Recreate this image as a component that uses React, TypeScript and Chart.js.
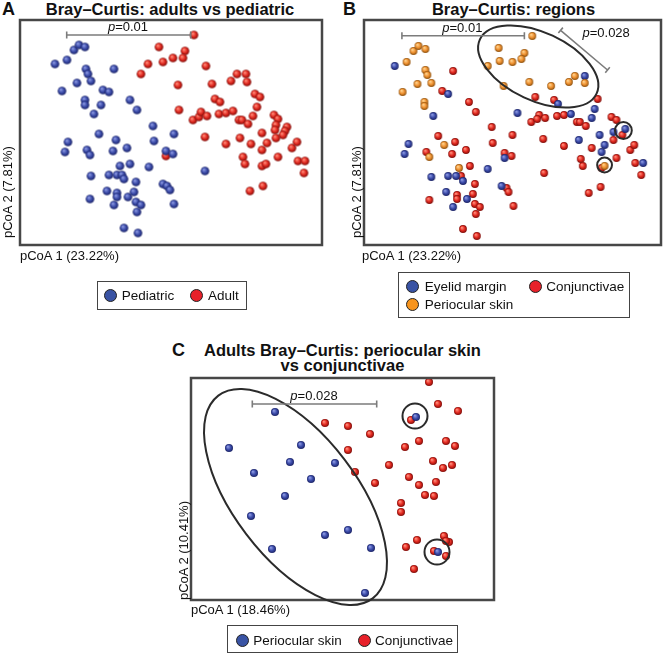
import React, { useEffect, useRef } from 'react';
import { Chart, registerables } from 'chart.js';

Chart.register(...registerables);

type Pt = [number, number];

// ---------- Panel A: adults vs pediatric (pCoA 1 vs pCoA 2, arbitrary units) ----------
const pediatricA: Pt[] = [
  [35, 44], [47, 40], [54, 30], [59, 25], [65, 27], [66, 49], [68, 54], [71, 61], [94, 49], [42, 71],
  [57, 63], [65, 80], [65, 85], [74, 94], [81, 85], [83, 70], [89, 72], [110, 80], [117, 90], [133, 106],
  [79, 114], [48, 122], [45, 132], [67, 130], [70, 135], [96, 120], [93, 131], [107, 128], [134, 121], [146, 131],
  [153, 134], [154, 114], [71, 156], [89, 155], [97, 155], [102, 155], [104, 159], [100, 146], [110, 144], [129, 147],
  [116, 162], [70, 179], [87, 171], [94, 185], [97, 173], [97, 177], [108, 177], [114, 172], [116, 182], [121, 185],
  [117, 192], [143, 164], [147, 166], [150, 170], [154, 184], [104, 208], [118, 213], [185, 151],
];
const adultA: Pt[] = [
  [139, 27], [128, 44], [143, 42], [153, 38], [121, 54], [158, 65], [159, 90], [146, 136], [174, 15], [165, 31],
  [163, 38], [186, 46], [192, 64], [217, 54], [226, 54], [211, 61], [227, 62], [195, 79], [200, 82], [235, 74],
  [240, 77], [237, 87], [173, 100], [179, 97], [181, 92], [187, 96], [199, 94], [206, 93], [213, 91], [219, 100],
  [222, 100], [233, 96], [228, 104], [254, 95], [258, 99], [256, 105], [255, 110], [267, 107], [265, 111], [263, 115],
  [256, 118], [242, 113], [247, 123], [231, 124], [220, 118], [206, 124], [185, 117], [223, 137], [225, 144], [242, 130],
  [258, 137], [272, 128], [277, 122], [278, 141], [285, 141], [284, 153], [242, 146], [246, 144], [243, 166], [230, 171],
];

// ---------- Panel B: regions ----------
const eyelidB: Pt[] = [
  [31, 46], [85, 74], [70, 96], [45, 124], [41, 134], [68, 157], [85, 156], [93, 156], [100, 161], [83, 172],
  [90, 187], [104, 179], [125, 149], [142, 138], [139, 166], [155, 93], [223, 56], [196, 84], [209, 94], [233, 89],
  [230, 98], [217, 120], [238, 115], [243, 125], [240, 132], [252, 112], [264, 109], [282, 143],
];
const periocularB: Pt[] = [
  [50, 31], [55, 26], [62, 29], [43, 42], [62, 50], [64, 55], [68, 63], [54, 64], [39, 72], [61, 82],
  [61, 86], [81, 125], [66, 137], [96, 148], [136, 28], [137, 41], [150, 42], [125, 46], [141, 66], [170, 16],
  [162, 33], [159, 39], [167, 62], [189, 66], [207, 62], [213, 56], [223, 63], [243, 146],
];
const conjunctivaeB: Pt[] = [
  [90, 51], [79, 71], [106, 82], [113, 92], [129, 107], [130, 123], [150, 115], [75, 116], [92, 122], [63, 132],
  [89, 134], [103, 130], [107, 146], [142, 133], [149, 136], [98, 156], [112, 164], [66, 180], [94, 175], [94, 179],
  [110, 174], [112, 184], [117, 187], [113, 194], [144, 168], [146, 172], [151, 186], [100, 209], [114, 216], [173, 77],
  [192, 80], [236, 79], [177, 95], [169, 102], [175, 99], [183, 98], [195, 96], [202, 95], [215, 102], [218, 102],
  [224, 106], [181, 119], [202, 126], [230, 128], [250, 97], [255, 100], [252, 120], [261, 115], [255, 138], [269, 130],
  [273, 125], [274, 143], [280, 155], [219, 139], [221, 146], [182, 153], [239, 167], [227, 173], [240, 148],
];

// ---------- Panel C: adults, periocular skin vs conjunctivae ----------
const periocularC: Pt[] = [
  [84, 34], [38, 70], [63, 95], [99, 84], [110, 67], [144, 85], [120, 101], [94, 118], [60, 138], [81, 171],
  [134, 157], [157, 152], [180, 170], [174, 215], [225, 39], [247, 174],
];
const conjunctivaeC: Pt[] = [
  [134, 45], [238, 4], [247, 26], [267, 33], [220, 42], [157, 48], [179, 56], [157, 72], [164, 94], [184, 105],
  [198, 87], [214, 69], [228, 63], [255, 63], [264, 68], [242, 83], [252, 90], [261, 87], [245, 104], [218, 99],
  [228, 107], [234, 117], [243, 118], [210, 125], [210, 134], [226, 162], [215, 169], [253, 158], [258, 164], [255, 163],
  [255, 178], [243, 173], [223, 191],
];

const FONT = '"Liberation Sans", Arial, Helvetica, sans-serif';

const SPHERES = {
  blue: ['#8a97e0', '#3a4aa8', '#1c2466'],
  red: ['#ff8a78', '#e0281f', '#7e0e0a'],
  orange: ['#ffd28c', '#ee9030', '#8f520e'],
};

function makeSphere(r: number, col: string[]) {
  const s = Math.ceil(r * 2 + 2);
  const c = document.createElement('canvas');
  c.width = s;
  c.height = s;
  const ctx = c.getContext('2d')!;
  const cx = s / 2, cy = s / 2;
  const g = ctx.createRadialGradient(cx - r * 0.3, cy - r * 0.35, r * 0.1, cx, cy, r);
  g.addColorStop(0, col[0]);
  g.addColorStop(0.55, col[1]);
  g.addColorStop(1, col[2]);
  ctx.fillStyle = g;
  ctx.beginPath();
  ctx.arc(cx, cy, r, 0, Math.PI * 2);
  ctx.fill();
  return c;
}

type Whisker = { x1: number; y1: number; x2: number; y2: number; label: string; lx: number; ly: number };
type Ell = { cx: number; cy: number; rx: number; ry: number; rot: number };
type Annot = { whiskers: Whisker[]; ellipses: Ell[] };

function annotPlugin(a: Annot) {
  return {
    id: 'annot',
    afterDatasetsDraw(chart: any) {
      const { ctx, chartArea: area, scales } = chart;
      const xs = scales.x, ys = scales.y;
      const px = (v: number) => xs.getPixelForValue(v);
      const py = (v: number) => ys.getPixelForValue(v);
      const ux = Math.abs(px(1) - px(0));
      const uy = Math.abs(py(1) - py(0));
      ctx.save();
      // frame
      ctx.strokeStyle = '#474747';
      ctx.lineWidth = 2.5;
      ctx.strokeRect(area.left, area.top, area.right - area.left, area.bottom - area.top);
      // ellipses / circles
      ctx.strokeStyle = '#2b2b2b';
      ctx.lineWidth = 2;
      for (const e of a.ellipses) {
        ctx.beginPath();
        ctx.ellipse(px(e.cx), py(e.cy), e.rx * ux, e.ry * uy, (e.rot * Math.PI) / 180, 0, Math.PI * 2);
        ctx.stroke();
      }
      // whiskers
      for (const w of a.whiskers) {
        const x1 = px(w.x1), y1 = py(w.y1), x2 = px(w.x2), y2 = py(w.y2);
        const len = Math.hypot(x2 - x1, y2 - y1);
        const nx = -(y2 - y1) / len, ny = (x2 - x1) / len;
        const cap = 3.5;
        ctx.strokeStyle = '#7c7c7c';
        ctx.lineWidth = 1.6;
        ctx.beginPath();
        ctx.moveTo(x1, y1);
        ctx.lineTo(x2, y2);
        ctx.moveTo(x1 - nx * cap, y1 - ny * cap);
        ctx.lineTo(x1 + nx * cap, y1 + ny * cap);
        ctx.moveTo(x2 - nx * cap, y2 - ny * cap);
        ctx.lineTo(x2 + nx * cap, y2 + ny * cap);
        ctx.stroke();
        // label: italic p + rest
        const rest = w.label.slice(1);
        ctx.fillStyle = '#111';
        ctx.textBaseline = 'alphabetic';
        ctx.textAlign = 'left';
        ctx.font = `italic 13px ${FONT}`;
        const wp = ctx.measureText('p').width;
        ctx.font = `13px ${FONT}`;
        const wr = ctx.measureText(rest).width;
        const sx = px(w.lx) - (wp + wr) / 2;
        const by = py(w.ly);
        ctx.font = `italic 13px ${FONT}`;
        ctx.fillText('p', sx, by);
        ctx.font = `13px ${FONT}`;
        ctx.fillText(rest, sx + wp, by);
      }
      ctx.restore();
    },
  };
}

type DS = { label: string; points: Pt[]; color: keyof typeof SPHERES };

function Panel(props: {
  left: number; top: number; width: number; height: number;
  padding: { left: number; right: number; top: number; bottom: number };
  xMax: number; yMax: number; radius: number; datasets: DS[]; annot: Annot;
}) {
  const ref = useRef<HTMLCanvasElement | null>(null);
  useEffect(() => {
    if (!ref.current) return;
    const chart = new Chart(ref.current, {
      type: 'scatter',
      data: {
        datasets: props.datasets.map((d) => ({
          label: d.label,
          data: d.points.map(([x, y]) => ({ x, y })),
          pointStyle: makeSphere(props.radius, SPHERES[d.color]) as any,
          pointRadius: props.radius,
          clip: false as any,
        })),
      },
      options: {
        responsive: false,
        animation: false,
        devicePixelRatio: 1,
        events: [],
        layout: { padding: props.padding },
        plugins: { legend: { display: false }, tooltip: { enabled: false }, title: { display: false } },
        scales: {
          x: { type: 'linear', min: 0, max: props.xMax, display: false },
          y: { type: 'linear', min: 0, max: props.yMax, reverse: true, display: false },
        },
      },
      plugins: [annotPlugin(props.annot)],
    });
    return () => chart.destroy();
  }, []);
  return (
    <canvas
      ref={ref}
      width={props.width}
      height={props.height}
      style={{ position: 'absolute', left: props.left, top: props.top, width: props.width, height: props.height }}
    />
  );
}

function Txt(props: {
  x: number; baseline: number; size: number; bold?: boolean; align?: 'left' | 'center';
  children: React.ReactNode;
}) {
  const top = props.baseline - 0.847 * props.size;
  const style: React.CSSProperties = {
    position: 'absolute',
    left: props.x,
    top,
    fontFamily: FONT,
    fontSize: props.size,
    fontWeight: props.bold ? 'bold' : 'normal',
    lineHeight: 1,
    whiteSpace: 'nowrap',
    color: '#111',
  };
  if (props.align === 'center') style.transform = 'translateX(-50%)';
  return <div style={style}>{props.children}</div>;
}

function VTxt(props: { baselineX: number; bottom: number; size: number; children: React.ReactNode }) {
  return (
    <div
      style={{
        position: 'absolute',
        left: props.baselineX - 0.847 * props.size,
        top: props.bottom,
        transformOrigin: '0 0',
        transform: 'rotate(-90deg)',
        fontFamily: FONT,
        fontSize: props.size,
        lineHeight: 1,
        whiteSpace: 'nowrap',
        color: '#111',
      }}
    >
      {props.children}
    </div>
  );
}

const LEG = { blue: '#3953a4', red: '#e8212a', orange: '#f7941d' };

function Dot({ cx, cy, color }: { cx: number; cy: number; color: string }) {
  return (
    <div
      style={{
        position: 'absolute', left: cx - 6.5, top: cy - 6.5, width: 13, height: 13,
        borderRadius: '50%', background: color, border: '1px solid #222', boxSizing: 'border-box',
      }}
    />
  );
}

function Box({ l, t, w, h }: { l: number; t: number; w: number; h: number }) {
  return (
    <div style={{ position: 'absolute', left: l, top: t, width: w, height: h, border: '1px solid #444', boxSizing: 'border-box' }} />
  );
}

export default function App() {
  return (
    <div style={{ position: 'absolute', left: 0, top: 0, width: 666, height: 655, background: '#fff', overflow: 'hidden' }}>
      {/* Panel A */}
      <Txt x={2} baseline={15} size={18} bold>A</Txt>
      <Txt x={170} baseline={15} size={16.5} bold align="center">Bray–Curtis: adults vs pediatric</Txt>
      <Panel
        left={14} top={14} width={314} height={237}
        padding={{ left: 6, right: 6, top: 6, bottom: 6 }}
        xMax={302} yMax={225} radius={4.3}
        datasets={[
          { label: 'Pediatric', points: pediatricA, color: 'blue' },
          { label: 'Adult', points: adultA, color: 'red' },
        ]}
        annot={{
          whiskers: [{ x1: 46.7, y1: 15, x2: 170.7, y2: 15, label: 'p=0.01', lx: 108, ly: 11 }],
          ellipses: [],
        }}
      />
      <VTxt baselineX={12.3} bottom={238} size={13}>pCoA 2 (7.81%)</VTxt>
      <Txt x={20} baseline={260.5} size={13}>pCoA 1 (23.22%)</Txt>
      <Box l={96.7} t={280.7} w={150} h={29.3} />
      <Dot cx={110.7} cy={295.3} color={LEG.blue} />
      <Txt x={121.7} baseline={300.5} size={13.5}>Pediatric</Txt>
      <Dot cx={196.7} cy={295.3} color={LEG.red} />
      <Txt x={208} baseline={300.5} size={13.5}>Adult</Txt>

      {/* Panel B */}
      <Txt x={343} baseline={15} size={18} bold>B</Txt>
      <Txt x={513.5} baseline={15} size={16.5} bold align="center">Bray–Curtis: regions</Txt>
      <Panel
        left={358} top={14} width={308} height={237}
        padding={{ left: 6, right: 2, top: 6, bottom: 6 }}
        xMax={300} yMax={225} radius={3.9}
        datasets={[
          { label: 'Periocular skin', points: periocularB, color: 'orange' },
          { label: 'Eyelid margin', points: eyelidB, color: 'blue' },
          { label: 'Conjunctivae', points: conjunctivaeB, color: 'red' },
        ]}
        annot={{
          whiskers: [
            { x1: 38.3, y1: 15.7, x2: 162, y2: 15.7, label: 'p=0.01', lx: 99.3, ly: 12.3 },
            { x1: 198.6, y1: 10.3, x2: 246, y2: 50, label: 'p=0.028', lx: 244.6, ly: 17.3 },
          ],
          ellipses: [
            { cx: 176, cy: 46.5, rx: 65, ry: 34, rot: 25 },
            { cx: 262, cy: 110.5, rx: 8.5, ry: 8.5, rot: 0 },
            { cx: 243, cy: 145, rx: 7.5, ry: 7.5, rot: 0 },
          ],
        }}
      />
      <VTxt baselineX={361} bottom={238} size={13}>pCoA 2 (7.81%)</VTxt>
      <Txt x={362} baseline={260.5} size={13}>pCoA 1 (23.22%)</Txt>
      <Box l={398} t={271.7} w={231.7} h={46.6} />
      <Dot cx={412.3} cy={286.3} color={LEG.blue} />
      <Txt x={424.7} baseline={291.5} size={13.5}>Eyelid margin</Txt>
      <Dot cx={535} cy={286.3} color={LEG.red} />
      <Txt x={546.3} baseline={291.5} size={13.5}>Conjunctivae</Txt>
      <Dot cx={412.3} cy={304} color={LEG.orange} />
      <Txt x={424.7} baseline={309.3} size={13.5}>Periocular skin</Txt>

      {/* Panel C */}
      <Txt x={172} baseline={356} size={18} bold>C</Txt>
      <Txt x={342.5} baseline={356} size={16.5} bold align="center">Adults Bray–Curtis: periocular skin</Txt>
      <Txt x={342.5} baseline={371} size={16.5} bold align="center">vs conjunctivae</Txt>
      <Panel
        left={185} top={372} width={315} height={240}
        padding={{ left: 6, right: 6, top: 6, bottom: 12 }}
        xMax={303} yMax={222} radius={4}
        datasets={[
          { label: 'Periocular skin', points: periocularC, color: 'blue' },
          { label: 'Conjunctivae', points: conjunctivaeC, color: 'red' },
        ]}
        annot={{
          whiskers: [{ x1: 61.3, y1: 26, x2: 185.7, y2: 26, label: 'p=0.028', lx: 123, ly: 21.7 }],
          ellipses: [
            { cx: 104.5, cy: 119, rx: 127.4, ry: 61.7, rot: 52.7 },
            { cx: 224, cy: 38, rx: 12.5, ry: 12.5, rot: 0 },
            { cx: 246, cy: 174, rx: 12.5, ry: 12.5, rot: 0 },
          ],
        }}
      />
      <VTxt baselineX={188} bottom={600} size={13}>pCoA 2 (10.41%)</VTxt>
      <Txt x={191} baseline={614} size={13}>pCoA 1 (18.46%)</Txt>
      <Box l={226.7} t={625} w={231.6} h={28.3} />
      <Dot cx={242.5} cy={640} color={LEG.blue} />
      <Txt x={253.3} baseline={645.3} size={13.5}>Periocular skin</Txt>
      <Dot cx={364} cy={640} color={LEG.red} />
      <Txt x={375} baseline={645.3} size={13.5}>Conjunctivae</Txt>
    </div>
  );
}
